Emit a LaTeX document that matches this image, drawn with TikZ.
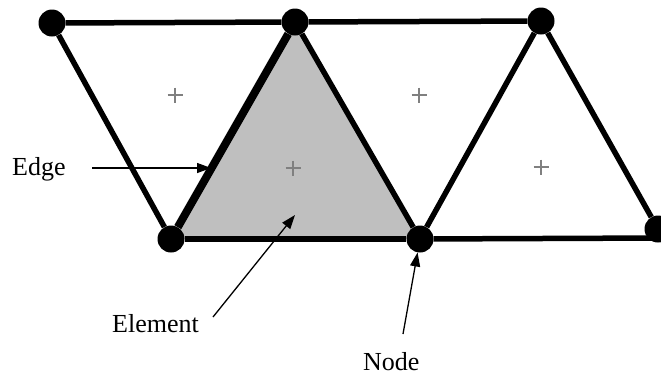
\documentclass[tikz,border=0pt]{standalone}
\usepackage{fontspec}
\setmainfont{Liberation Serif}
\usetikzlibrary{arrows.meta,backgrounds}

\begin{document}
\begin{tikzpicture}[
    x=1pt, y=-1pt,
    font=\fontsize{26}{30}\selectfont,
    vertex/.style={circle, fill=black, minimum size=27pt, inner sep=0pt},
    plusmark/.style={draw=gray, line width=1.4pt},
    side/.style={line width=5.5pt},
    boldside/.style={line width=8pt},
    element/.style={fill=gray!50},
    lbl/.style={inner sep=0pt},
    arrow/.style={-{Triangle[length=14pt,width=10pt]}, line width=1.3pt}
]
\useasboundingbox (0,0) rectangle (661,376);

% mesh vertices
\node[vertex] (t1) at (52,23) {};
\node[vertex] (t2) at (295,22) {};
\node[vertex] (t3) at (541,21) {};
\node[vertex] (b1) at (171,239) {};
\node[vertex] (b2) at (420,239) {};
\node[vertex] (b3) at (658,229) {};
\coordinate (rend) at (661,238);

% highlighted element
\begin{scope}[on background layer]
\fill[element] (b1.center) -- (t2.center) -- (b2.center) -- cycle;
\end{scope}

% element sides
\draw[side] (t1) -- (t2);
\draw[side] (t2) -- (t3);
\draw[side] (b1) -- (b2);
\draw[side] (b2) -- (rend);
\draw[side] (t1) -- (b1);
\draw[boldside] (b1) -- (t2);
\draw[side] (t2) -- (b2);
\draw[side] (b2) -- (t3);
\draw[side] (t3) -- (b3);

% centroids
\coordinate (c1) at (175,95);
\coordinate (c2) at (293,168);
\coordinate (c3) at (419,95);
\coordinate (c4) at (541,167);
\foreach \c in {c1,c2,c3,c4}
  \draw[plusmark] (\c) +(-7.5,0) -- +(7.5,0) (\c) +(0,-7.5) -- +(0,7.5);

% labels
\node[lbl, anchor=base west] (edgelbl) at (12,175) {Edge};
\node[lbl, anchor=base west] (elemlbl) at (112,332) {Element};
\node[lbl, anchor=base west] (nodelbl) at (363,370) {Node};

\coordinate (edgefrom) at (92,168);
\coordinate (edgeto) at (211,168);
\coordinate (elemfrom) at (213,317);
\coordinate (elemto) at (295,215);
\coordinate (nodefrom) at (403,334);

\draw[arrow] (edgefrom) -- (edgeto);
\draw[arrow] (elemfrom) -- (elemto);
\draw[arrow] (nodefrom) -- (b2);
\end{tikzpicture}
\end{document}
